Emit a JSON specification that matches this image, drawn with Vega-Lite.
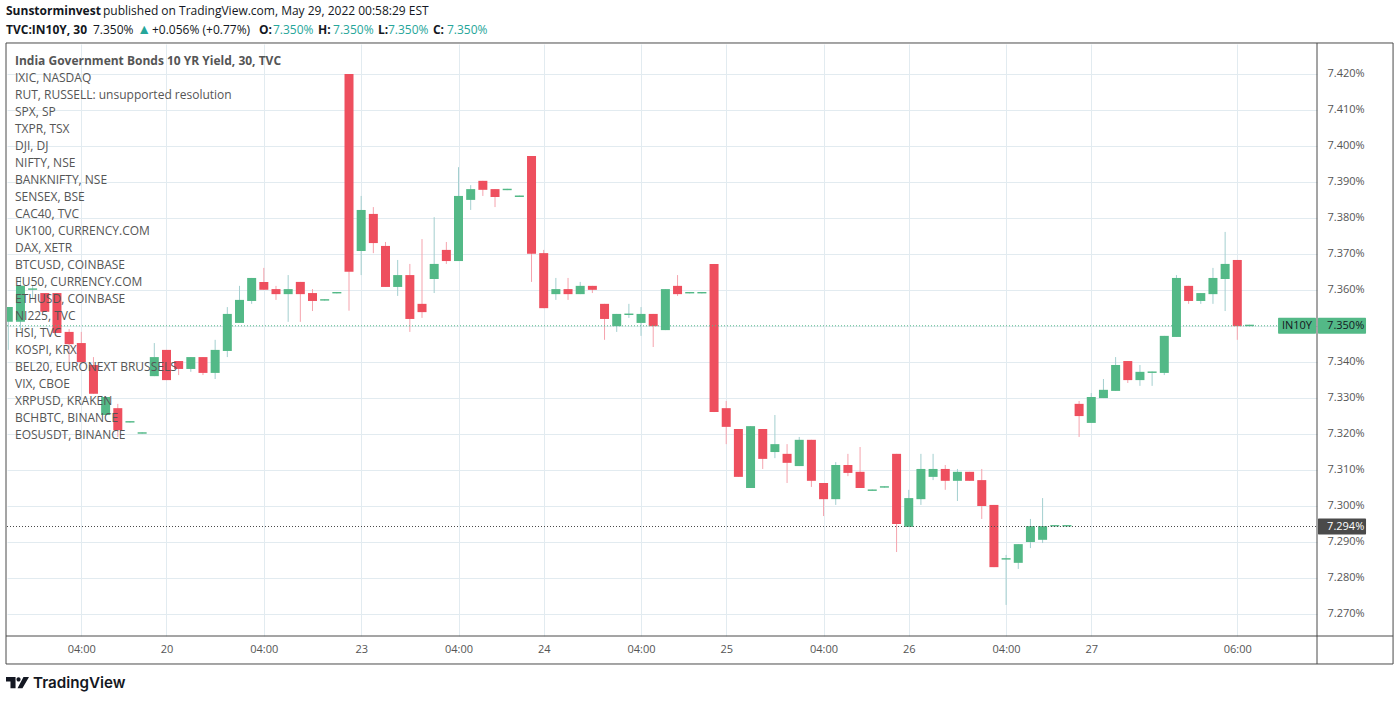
{"$schema":"https://vega.github.io/schema/vega-lite/v6.json","width":1310,"height":592,"autosize":"none","padding":{"left":7,"top":44,"right":83,"bottom":65},"background":"white",
"config":{"font":"Open Sans","view":{"stroke":null}},
"datasets":{
"one":[{"note":"annotation"}],
"bars":[
{"bar":0,"open":7.3511,"high":7.3552,"low":7.3433,"close":7.3552},
{"bar":1,"open":7.3511,"high":7.3636,"low":7.3488,"close":7.3611},
{"bar":2,"open":7.36,"high":7.3613,"low":7.3577,"close":7.3604},
{"bar":3,"open":7.3591,"high":7.3591,"low":7.3539,"close":7.3539},
{"bar":4,"open":7.3591,"high":7.3591,"low":7.348,"close":7.348},
{"bar":5,"open":7.3483,"high":7.3491,"low":7.3397,"close":7.3449},
{"bar":6,"open":7.3452,"high":7.3483,"low":7.3399,"close":7.3399},
{"bar":7,"open":7.3391,"high":7.3413,"low":7.3311,"close":7.3311},
{"bar":8,"open":7.3252,"high":7.3302,"low":7.3252,"close":7.3302},
{"bar":9,"open":7.3271,"high":7.3283,"low":7.3191,"close":7.321},
{"bar":10,"open":7.3231,"high":7.3235,"low":7.3231,"close":7.3235},
{"bar":11,"open":7.32,"high":7.3204,"low":7.32,"close":7.3204},
{"bar":12,"open":7.336,"high":7.3452,"low":7.336,"close":7.3413},
{"bar":13,"open":7.3433,"high":7.3433,"low":7.3349,"close":7.3349},
{"bar":14,"open":7.3402,"high":7.3402,"low":7.3363,"close":7.338},
{"bar":15,"open":7.338,"high":7.3413,"low":7.3372,"close":7.3413},
{"bar":16,"open":7.3413,"high":7.3413,"low":7.3363,"close":7.3369},
{"bar":17,"open":7.3369,"high":7.3461,"low":7.3352,"close":7.3433},
{"bar":18,"open":7.343,"high":7.3552,"low":7.3413,"close":7.3533},
{"bar":19,"open":7.3508,"high":7.3611,"low":7.3508,"close":7.3572},
{"bar":20,"open":7.3569,"high":7.3633,"low":7.3561,"close":7.3633},
{"bar":21,"open":7.3622,"high":7.3661,"low":7.36,"close":7.36},
{"bar":22,"open":7.3602,"high":7.3611,"low":7.3572,"close":7.3588},
{"bar":23,"open":7.3588,"high":7.3641,"low":7.3511,"close":7.3602},
{"bar":24,"open":7.3622,"high":7.3622,"low":7.3511,"close":7.3588},
{"bar":25,"open":7.3591,"high":7.3602,"low":7.3541,"close":7.3569},
{"bar":26,"open":7.357,"high":7.3574,"low":7.357,"close":7.3574},
{"bar":27,"open":7.359,"high":7.3594,"low":7.359,"close":7.3594},
{"bar":28,"open":7.42,"high":7.42,"low":7.3542,"close":7.365},
{"bar":29,"open":7.3708,"high":7.3861,"low":7.3641,"close":7.3822},
{"bar":30,"open":7.3811,"high":7.383,"low":7.3702,"close":7.373},
{"bar":31,"open":7.3722,"high":7.3733,"low":7.3608,"close":7.3608},
{"bar":32,"open":7.3608,"high":7.3683,"low":7.3583,"close":7.3641},
{"bar":33,"open":7.3641,"high":7.3672,"low":7.3483,"close":7.3519},
{"bar":34,"open":7.3561,"high":7.3741,"low":7.3522,"close":7.3538},
{"bar":35,"open":7.363,"high":7.3802,"low":7.3591,"close":7.3672},
{"bar":36,"open":7.3711,"high":7.3733,"low":7.3672,"close":7.368},
{"bar":37,"open":7.368,"high":7.3941,"low":7.368,"close":7.3861},
{"bar":38,"open":7.385,"high":7.3891,"low":7.3822,"close":7.388},
{"bar":39,"open":7.3903,"high":7.3903,"low":7.3861,"close":7.3878},
{"bar":40,"open":7.388,"high":7.388,"low":7.383,"close":7.3858},
{"bar":41,"open":7.3877,"high":7.3881,"low":7.3877,"close":7.3881},
{"bar":42,"open":7.3858,"high":7.3862,"low":7.3858,"close":7.3862},
{"bar":43,"open":7.3972,"high":7.3972,"low":7.3622,"close":7.37},
{"bar":44,"open":7.3702,"high":7.3711,"low":7.3549,"close":7.3549},
{"bar":45,"open":7.3588,"high":7.3633,"low":7.3572,"close":7.3602},
{"bar":46,"open":7.3602,"high":7.3633,"low":7.3572,"close":7.3588},
{"bar":47,"open":7.3588,"high":7.3622,"low":7.3588,"close":7.3611},
{"bar":48,"open":7.3611,"high":7.3611,"low":7.3591,"close":7.36},
{"bar":49,"open":7.3561,"high":7.3561,"low":7.3461,"close":7.3519},
{"bar":50,"open":7.3499,"high":7.3533,"low":7.3483,"close":7.3533},
{"bar":51,"open":7.353,"high":7.3561,"low":7.3522,"close":7.3534},
{"bar":52,"open":7.3508,"high":7.3552,"low":7.3472,"close":7.3533},
{"bar":53,"open":7.3533,"high":7.3533,"low":7.3441,"close":7.3499},
{"bar":54,"open":7.3488,"high":7.3602,"low":7.3488,"close":7.3602},
{"bar":55,"open":7.3611,"high":7.3641,"low":7.3583,"close":7.3588},
{"bar":56,"open":7.359,"high":7.3594,"low":7.359,"close":7.3594},
{"bar":57,"open":7.359,"high":7.3594,"low":7.359,"close":7.3594},
{"bar":58,"open":7.3672,"high":7.3672,"low":7.326,"close":7.326},
{"bar":59,"open":7.3271,"high":7.3291,"low":7.3171,"close":7.3219},
{"bar":60,"open":7.3213,"high":7.3213,"low":7.308,"close":7.308},
{"bar":61,"open":7.3049,"high":7.3221,"low":7.3049,"close":7.3221},
{"bar":62,"open":7.3213,"high":7.3213,"low":7.3102,"close":7.313},
{"bar":63,"open":7.3149,"high":7.3252,"low":7.3132,"close":7.3171},
{"bar":64,"open":7.3144,"high":7.3171,"low":7.3063,"close":7.3119},
{"bar":65,"open":7.311,"high":7.3191,"low":7.311,"close":7.3183},
{"bar":66,"open":7.3183,"high":7.3183,"low":7.3052,"close":7.3069},
{"bar":67,"open":7.3063,"high":7.3063,"low":7.2971,"close":7.3018},
{"bar":68,"open":7.3018,"high":7.3121,"low":7.3002,"close":7.3113},
{"bar":69,"open":7.3113,"high":7.3144,"low":7.3082,"close":7.3091},
{"bar":70,"open":7.3094,"high":7.3163,"low":7.3049,"close":7.3049},
{"bar":71,"open":7.3041,"high":7.3045,"low":7.3041,"close":7.3045},
{"bar":72,"open":7.305,"high":7.3054,"low":7.305,"close":7.3054},
{"bar":73,"open":7.3144,"high":7.3144,"low":7.2871,"close":7.2949},
{"bar":74,"open":7.2941,"high":7.3044,"low":7.2941,"close":7.3021},
{"bar":75,"open":7.3018,"high":7.3144,"low":7.3002,"close":7.3102},
{"bar":76,"open":7.308,"high":7.3144,"low":7.3071,"close":7.3102},
{"bar":77,"open":7.3102,"high":7.3113,"low":7.3044,"close":7.3069},
{"bar":78,"open":7.3069,"high":7.3102,"low":7.3013,"close":7.3094},
{"bar":79,"open":7.3094,"high":7.3094,"low":7.3069,"close":7.3069},
{"bar":80,"open":7.3071,"high":7.3102,"low":7.2963,"close":7.2999},
{"bar":81,"open":7.3002,"high":7.3002,"low":7.2829,"close":7.2829},
{"bar":82,"open":7.285,"high":7.2863,"low":7.2724,"close":7.2854},
{"bar":83,"open":7.2841,"high":7.2893,"low":7.2824,"close":7.2893},
{"bar":84,"open":7.2899,"high":7.2963,"low":7.2882,"close":7.2943},
{"bar":85,"open":7.2905,"high":7.3021,"low":7.2896,"close":7.2943},
{"bar":86,"open":7.2942,"high":7.2946,"low":7.2942,"close":7.2946},
{"bar":87,"open":7.2942,"high":7.2946,"low":7.2942,"close":7.2946},
{"bar":88,"open":7.3283,"high":7.3291,"low":7.3191,"close":7.3249},
{"bar":89,"open":7.323,"high":7.3313,"low":7.323,"close":7.3302},
{"bar":90,"open":7.3299,"high":7.3352,"low":7.3299,"close":7.3322},
{"bar":91,"open":7.3319,"high":7.3413,"low":7.3319,"close":7.3391},
{"bar":92,"open":7.3402,"high":7.3402,"low":7.3341,"close":7.3349},
{"bar":93,"open":7.3349,"high":7.3391,"low":7.3333,"close":7.3372},
{"bar":94,"open":7.3369,"high":7.3373,"low":7.3333,"close":7.3373},
{"bar":95,"open":7.3369,"high":7.3472,"low":7.3363,"close":7.3472},
{"bar":96,"open":7.3469,"high":7.3641,"low":7.3469,"close":7.3633},
{"bar":97,"open":7.3611,"high":7.3611,"low":7.3561,"close":7.3569},
{"bar":98,"open":7.3569,"high":7.3591,"low":7.3561,"close":7.3591},
{"bar":99,"open":7.3588,"high":7.3661,"low":7.3561,"close":7.3633},
{"bar":100,"open":7.363,"high":7.3761,"low":7.3541,"close":7.3672},
{"bar":101,"open":7.3683,"high":7.3683,"low":7.3461,"close":7.3499},
{"bar":102,"open":7.3499,"high":7.3503,"low":7.3499,"close":7.3503}
],
"watch":[
{"label":"India Government Bonds 10 YR Yield, 30, TVC","main":true},
{"label":"IXIC, NASDAQ","main":false},
{"label":"RUT, RUSSELL: unsupported resolution","main":false},
{"label":"SPX, SP","main":false},
{"label":"TXPR, TSX","main":false},
{"label":"DJI, DJ","main":false},
{"label":"NIFTY, NSE","main":false},
{"label":"BANKNIFTY, NSE","main":false},
{"label":"SENSEX, BSE","main":false},
{"label":"CAC40, TVC","main":false},
{"label":"UK100, CURRENCY.COM","main":false},
{"label":"DAX, XETR","main":false},
{"label":"BTCUSD, COINBASE","main":false},
{"label":"EU50, CURRENCY.COM","main":false},
{"label":"ETHUSD, COINBASE","main":false},
{"label":"NI225, TVC","main":false},
{"label":"HSI, TVC","main":false},
{"label":"KOSPI, KRX","main":false},
{"label":"BEL20, EURONEXT BRUSSELS","main":false},
{"label":"VIX, CBOE","main":false},
{"label":"XRPUSD, KRAKEN","main":false},
{"label":"BCHBTC, BINANCE","main":false},
{"label":"EOSUSDT, BINANCE","main":false}
]},
"resolve":{"scale":{"y":"independent"}},
"layer":[
{"layer":[
{"data":{"name":"bars"},"mark":{"type":"rule","strokeWidth":1,"clip":true},
 "encoding":{
  "x":{"field":"bar","type":"quantitative","title":null,"scale":{"domain":[-0.106,107.55],"nice":false,"zero":false,"padding":0},
   "axis":{"orient":"bottom","values":[6,13,21,29,37,44,52,59,67,74,82,89,101],"tickCount":30,"grid":true,"gridColor":"#e2ebf0","gridWidth":1,"domain":false,"ticks":false,"labelFontSize":11,"labelColor":"#555555","labelPadding":7,"labelFlush":false,"labelOverlap":false,
   "labelExpr":"datum.value==13?'20':datum.value==29?'23':datum.value==44?'24':datum.value==59?'25':datum.value==74?'26':datum.value==89?'27':datum.value==101?'06:00':'04:00'"}},
  "y":{"field":"low","type":"quantitative","title":null,"scale":{"domain":[7.26376,7.42834],"nice":false,"zero":false,"padding":0},
   "axis":{"orient":"right","values":[7.27,7.28,7.29,7.3,7.31,7.32,7.33,7.34,7.35,7.36,7.37,7.38,7.39,7.4,7.41,7.42],"tickCount":30,"grid":true,"gridColor":"#e2ebf0","gridWidth":1,"domain":false,"ticks":false,"labelFontSize":11,"labelColor":"#555555","labelPadding":10,"labelFlush":false,"labelOverlap":false,"labelExpr":"format(datum.value,'.3f')+'%'"}},
  "y2":{"field":"high"},
  "stroke":{"condition":{"test":"datum.close>=datum.open","value":"#a3cfcf"},"value":"#f5a3ad"}}},
{"data":{"name":"bars"},"mark":{"type":"bar","size":9,"orient":"vertical","clip":true},
 "encoding":{
  "x":{"field":"bar","type":"quantitative"},
  "y":{"field":"open","type":"quantitative"},
  "y2":{"field":"close"},
  "fill":{"condition":{"test":"datum.close>=datum.open","value":"#53b987"},"value":"#ee4f5e"}}},
{"data":{"name":"one"},"mark":{"type":"rule","stroke":"#53b987","strokeWidth":1,"strokeDash":[1,2]},"encoding":{"y":{"datum":7.35},"x":{"datum":-0.106},"x2":{"datum":104.35}}},
{"data":{"name":"one"},"mark":{"type":"rule","stroke":"#4a4a4a","strokeWidth":1,"strokeDash":[1,2]},"encoding":{"y":{"datum":7.2942},"x":{"datum":-0.106},"x2":{"datum":107.55}}},
{"data":{"name":"one"},"mark":{"type":"bar","size":16,"orient":"horizontal","fill":"#53b987","cornerRadius":1},"encoding":{"y":{"datum":7.35},"x":{"datum":104.35},"x2":{"datum":107.47}}},
{"data":{"name":"one"},"mark":{"type":"bar","size":16,"orient":"horizontal","fill":"#53b987","cornerRadius":1},"encoding":{"y":{"datum":7.35},"x":{"datum":107.63},"x2":{"datum":111.58}}},
{"data":{"name":"one"},"mark":{"type":"bar","size":16,"orient":"horizontal","fill":"#4a4a4a","cornerRadius":1},"encoding":{"y":{"datum":7.2942},"x":{"datum":107.63},"x2":{"datum":111.58}}},
{"data":{"name":"one"},"mark":{"type":"text","text":"IN10Y","align":"center","baseline":"middle","fontSize":11,"fill":"#131722"},"encoding":{"y":{"datum":7.35},"x":{"datum":105.9}}},
{"data":{"name":"one"},"mark":{"type":"text","text":"7.350%","align":"left","baseline":"middle","fontSize":11,"fill":"#131722"},"encoding":{"y":{"datum":7.35},"x":{"datum":108.38}}},
{"data":{"name":"one"},"mark":{"type":"text","text":"7.294%","align":"left","baseline":"middle","fontSize":11,"fill":"#ffffff"},"encoding":{"y":{"datum":7.2942},"x":{"datum":108.38}}},
{"data":{"name":"one"},"mark":{"type":"rect","fill":null,"fillOpacity":0,"stroke":"#4a4a4a","strokeWidth":1},"encoding":{"x":{"datum":-0.188},"x2":{"datum":113.8},"y":{"datum":7.42862},"y2":{"datum":7.25598}}},
{"data":{"name":"one"},"mark":{"type":"rule","stroke":"#4a4a4a","strokeWidth":1},"encoding":{"x":{"datum":107.55},"y":{"datum":7.42862},"y2":{"datum":7.25598}}},
{"data":{"name":"one"},"mark":{"type":"rule","stroke":"#4a4a4a","strokeWidth":1},"encoding":{"y":{"datum":7.26376},"x":{"datum":-0.188},"x2":{"datum":113.8}}},
{"data":{"name":"one"},"mark":{"type":"text","text":"Sunstorminvest","align":"left","baseline":"middle","fontSize":12,"fontWeight":"bold","fill":"#131722"},"encoding":{"x":{"datum":-0.188},"y":{"datum":7.43751}}},
{"data":{"name":"one"},"mark":{"type":"text","text":"published on TradingView.com, May 29, 2022 00:58:29 EST","align":"left","baseline":"middle","fontSize":12,"fill":"#131722"},"encoding":{"x":{"datum":7.78},"y":{"datum":7.43751}}},
{"data":{"name":"one"},"mark":{"type":"text","text":"TVC:IN10Y, 30","align":"left","baseline":"middle","fontSize":12,"fontWeight":"bold","fill":"#131722"},"encoding":{"x":{"datum":-0.188},"y":{"datum":7.43225}}},
{"data":{"name":"one"},"mark":{"type":"text","text":"7.350%","align":"left","baseline":"middle","fontSize":12,"fill":"#131722"},"encoding":{"x":{"datum":6.96},"y":{"datum":7.43225}}},
{"data":{"name":"one"},"mark":{"type":"text","text":"▲","align":"left","baseline":"middle","fontSize":14,"fill":"#26a69a"},"encoding":{"x":{"datum":10.6},"y":{"datum":7.43225}}},
{"data":{"name":"one"},"mark":{"type":"text","text":"+0.056% (+0.77%)","align":"left","baseline":"middle","fontSize":12,"fill":"#131722"},"encoding":{"x":{"datum":11.81},"y":{"datum":7.43225}}},
{"data":{"name":"one"},"mark":{"type":"text","text":"O:","align":"left","baseline":"middle","fontSize":12,"fontWeight":"bold","fill":"#131722"},"encoding":{"x":{"datum":20.6},"y":{"datum":7.43225}}},
{"data":{"name":"one"},"mark":{"type":"text","text":"7.350%","align":"left","baseline":"middle","fontSize":12,"fill":"#26a69a"},"encoding":{"x":{"datum":21.75},"y":{"datum":7.43225}}},
{"data":{"name":"one"},"mark":{"type":"text","text":"H:","align":"left","baseline":"middle","fontSize":12,"fontWeight":"bold","fill":"#131722"},"encoding":{"x":{"datum":25.45},"y":{"datum":7.43225}}},
{"data":{"name":"one"},"mark":{"type":"text","text":"7.350%","align":"left","baseline":"middle","fontSize":12,"fill":"#26a69a"},"encoding":{"x":{"datum":26.69},"y":{"datum":7.43225}}},
{"data":{"name":"one"},"mark":{"type":"text","text":"L:","align":"left","baseline":"middle","fontSize":12,"fontWeight":"bold","fill":"#131722"},"encoding":{"x":{"datum":30.38},"y":{"datum":7.43225}}},
{"data":{"name":"one"},"mark":{"type":"text","text":"7.350%","align":"left","baseline":"middle","fontSize":12,"fill":"#26a69a"},"encoding":{"x":{"datum":31.2},"y":{"datum":7.43225}}},
{"data":{"name":"one"},"mark":{"type":"text","text":"C:","align":"left","baseline":"middle","fontSize":12,"fontWeight":"bold","fill":"#131722"},"encoding":{"x":{"datum":34.9},"y":{"datum":7.43225}}},
{"data":{"name":"one"},"mark":{"type":"text","text":"7.350%","align":"left","baseline":"middle","fontSize":12,"fill":"#26a69a"},"encoding":{"x":{"datum":36.05},"y":{"datum":7.43225}}},
{"data":{"name":"one"},"mark":{"type":"point","filled":true,"opacity":1,"fill":"#131722","stroke":null,"size":529,"shape":"M-1,-0.48 L-0.17,-0.48 L-0.17,0.48 L-0.61,0.48 L-0.61,-0.09 L-1,-0.09 Z M-0.09,-0.28 A0.18,0.18 0 1 1 0.27,-0.28 A0.18,0.18 0 1 1 -0.09,-0.28 Z M0.52,-0.48 L1,-0.48 L0.43,0.48 L0,0.48 Z"},"encoding":{"x":{"datum":0.757},"y":{"datum":7.2508}}},
{"data":{"name":"one"},"mark":{"type":"text","text":"TradingView","align":"left","baseline":"middle","font":"Inter","fontSize":15.2,"fontWeight":600,"fill":"#131722"},"encoding":{"x":{"datum":2.03},"y":{"datum":7.2508}}}
]},
{"data":{"name":"watch"},
 "transform":[{"window":[{"op":"row_number","as":"line"}]}],
 "layer":[
 {"transform":[{"filter":"datum.main"}],"mark":{"type":"text","align":"left","baseline":"middle","fontSize":12,"fontWeight":"bold","fill":"#555555"},
  "encoding":{"x":{"datum":0.551},"y":{"field":"line","type":"quantitative","axis":null,"scale":{"domain":[1,23],"range":[17,391],"nice":false,"zero":false}},"text":{"field":"label"}}},
 {"transform":[{"filter":"!datum.main"}],"mark":{"type":"text","align":"left","baseline":"middle","fontSize":12,"fill":"#555555"},
  "encoding":{"x":{"datum":0.551},"y":{"field":"line","type":"quantitative","axis":null,"scale":{"domain":[1,23],"range":[17,391],"nice":false,"zero":false}},"text":{"field":"label"}}}
 ]}
]}
